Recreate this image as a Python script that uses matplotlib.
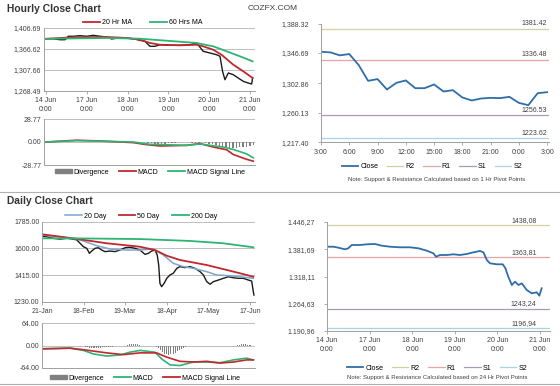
import numpy as np
import matplotlib
matplotlib.use("Agg")
from matplotlib import pyplot as plt
from matplotlib.lines import Line2D
from matplotlib.patches import Patch

plt.rcParams['font.family'] = ['Liberation Sans', 'DejaVu Sans']

# ---- datos: grafico horario (arriba izquierda) ----
h_hours = [0, 4.3, 8.2, 11.2, 13.1, 16.1, 20, 23.9, 27.8, 31.8, 35.7, 38.6, 42.5, 47.4, 52.4, 55.3,
           58.2, 61.2, 64.1, 67.1, 72.9, 78.8, 84.7, 88.6, 90.2, 92.5, 96.5, 100.4, 102.4, 103.9,
           105.3, 107.3, 110.2, 113.1, 116.1, 119, 121, 121.6]
h_close = [1383.2, 1383, 1381, 1381, 1388.5, 1388.5, 1389.8, 1388.5, 1390.6, 1388.5, 1387, 1382.6,
           1384.8, 1384.8, 1382.6, 1379.7, 1377.5, 1366.5, 1366.5, 1370, 1368.7, 1368.7, 1370, 1373.8,
           1366.5, 1355.6, 1351.8, 1348.1, 1344.6, 1311.7, 1293.3, 1308, 1304.3, 1297, 1289.7, 1286,
           1283.8, 1297]
ma20_hours = [0, 16, 35.7, 47.4, 55.3, 61.2, 67.1, 78.8, 88.6, 92.5, 98.4, 103.3, 110.2, 116.1, 121.6]
ma20_vals = [1383, 1386.3, 1387, 1384.8, 1381, 1373.8, 1370, 1368.7, 1370, 1366.5, 1359, 1348,
             1326.2, 1311.7, 1297]
ma60_hours = [0, 35.7, 55.3, 71, 88.6, 98.4, 106.3, 114.1, 121.6]
ma60_vals = [1383, 1384.8, 1383.2, 1378.8, 1373.8, 1366.5, 1355.6, 1344.6, 1333.6]
h_ticks_y = ['1,268.49', '1,307.66', '1,366.62', '1,406.69']
h_ticks_x = ['14 Jun\n0:00', '17 Jun\n0:00', '18 Jun\n0:00', '19 Jun\n0:00', '20 Jun\n0:00', '21 Jun\n0:00']

macd_h_hours = [0, 18, 31.8, 51.4, 59.2, 67, 82.7, 90.6, 98.4, 106.3, 110.2, 118, 122]
macd_h_vals = [0, 2.2, 1.3, -0.8, -3.3, -5, -4.2, -2, -6.3, -9.7, -15.6, -21.6, -24]
sig_h_hours = [0, 18, 51.4, 61.2, 82.7, 90.6, 104.3, 110.2, 118, 122]
sig_h_vals = [0, 1.7, 0, -2.9, -4.2, -2.5, -6.3, -9.3, -14.8, -19.8]
div_h_hours = list(range(58, 123, 2))
div_h_vals = [-0.5, -1, -1.5, -2, -2, -2.5, -2, -1.5, -1, -1, -0.5, -0.5, 0, -0.5, -1, -1.5, -1,
              -0.5, -1, -2, -3, -4, -5, -6, -6.5, -7, -7, -7, -6.5, -6, -6, -5, -4]

# ---- datos: pivotes 1 hora (arriba derecha) ----
c1_close = [1348.2, 1347.3, 1343.0, 1344.9, 1329.0, 1306.2, 1308.7, 1293.7, 1303.3, 1306.8, 1295.6,
            1295.6, 1301.0, 1290.8, 1292.7, 1282.2, 1277.8, 1280.7, 1281.6, 1281.2, 1283.1, 1274.4,
            1271.0, 1288.4, 1289.8]
c1_ticks_x = ['3:00', '6:00', '9:00', '12:00', '15:00', '18:00', '21:00', '0:00', '3:00']
c1_ticks_y = [1217.40, 1260.13, 1302.86, 1346.69, 1388.32]
c1_pivots = {'R2': 1381.42, 'R1': 1336.48, 'S1': 1256.53, 'S2': 1223.62}

# ---- datos: grafico diario (abajo izquierda) ----
d_days = [0, 2.2, 5.4, 8.7, 11.9, 15, 16.7, 18.3, 19.9, 21.5, 22.8, 23.9, 25.5, 27.1, 28.7, 30.3,
          32.7, 35.1, 37.5, 39.9, 42.3, 44.7, 47.1, 49.5, 51.1, 52.7, 54.3, 55.4, 56.1, 56.7, 57.5,
          58.7, 60, 61.5, 63.1, 64.8, 66.3, 68.8, 71.2, 73.6, 76, 77.6, 79.2, 80.8, 82.4, 84.8, 87.2,
          89.6, 92, 94.4, 96.8, 99.2, 100.8, 101.6, 101.9]
d_close = [1685, 1680, 1669, 1664, 1669, 1664, 1658, 1635, 1611, 1600, 1565, 1581, 1600, 1604, 1588,
           1577, 1581, 1577, 1588, 1604, 1607, 1600, 1588, 1558, 1565, 1581, 1588, 1554, 1484, 1357,
           1334, 1357, 1392, 1415, 1427, 1461, 1473, 1466, 1473, 1461, 1438, 1415, 1369, 1351, 1369,
           1380, 1392, 1403, 1396, 1392, 1392, 1380, 1373, 1299, 1276]
d200_days = [0, 15, 47, 71, 87, 101.6]
d200_vals = [1669, 1669, 1664, 1651, 1635, 1607]
d50_days = [0, 15, 31, 47, 54.3, 59.9, 66.3, 79.2, 88.8, 95.2, 101.6]
d50_vals = [1697, 1669, 1635, 1611, 1588, 1549, 1519, 1484, 1450, 1427, 1403]
d20_days = [0, 15, 19.9, 26.3, 32.7, 40.7, 47.1, 53.5, 58.3, 63.1, 67.9, 72.8, 79.2, 84, 90.4, 95.2, 101.6]
d20_vals = [1692, 1669, 1651, 1618, 1595, 1588, 1588, 1595, 1554, 1496, 1473, 1461, 1438, 1415, 1410,
            1403, 1392]
d_ticks_x = ['21-Jan', '18-Feb', '19-Mar', '18-Apr', '17-May', '17-Jun']
d_ticks_y = [1230, 1415, 1600, 1785]

macd_d_days = [0, 13.5, 19.9, 24.7, 31.1, 37.5, 42.3, 47.1, 54.3, 57.5, 61.5, 66.3, 72.8, 79.2, 85.6,
               92, 98.4, 101.6]
macd_d_vals = [-9.5, -7.6, -14, -24, -30, -27, -19, -14, -19, -38, -55, -57, -47, -47, -49, -41, -36, -41]
sig_d_days = [0, 13.5, 19.9, 31.1, 39.1, 47.1, 55.1, 59.9, 66.3, 72.8, 79.2, 85.6, 92, 98.4, 101.6]
sig_d_vals = [-9.5, -7.6, -12, -21, -26, -21, -21, -33, -45, -47, -45, -50, -47, -41, -41]
div_d_days = list(range(20, 37)) + list(range(41, 48)) + list(range(55, 71)) + list(range(94, 101))
div_d_vals = [-2, -3, -5, -7, -8, -8, -7, -6, -6, -5, -5, -4, -4, -3, -3, -2, -2,
              2, 3, 3, 4, 3, 3, 2,
              -3, -8, -14, -19, -23, -25, -26, -25, -23, -20, -16, -12, -9, -6, -4, -2,
              2, 2, 3, 3, 3, 2, 2]

# ---- datos: pivotes 24 horas (abajo derecha) ----
c24_hours = [0, 3.6, 6.4, 10.1, 12, 13.9, 18.6, 22.4, 27, 30.8, 35.5, 41.1, 46.8, 51.5, 56.2, 59.9,
             61.4, 63.7, 67.4, 71.2, 74.9, 78.7, 82.4, 86.2, 88.1, 90, 91.8, 95.6, 99, 100.5, 102.1,
             104.1, 105.9, 107.8, 109.7, 112.5, 115.3, 118.1, 119.6, 120.9]
c24_close = [1388.4, 1388.4, 1386.1, 1382.3, 1384.7, 1392.4, 1392.4, 1394, 1394.8, 1390.8, 1388.4,
             1387, 1387, 1384.7, 1379, 1373, 1365, 1369, 1369, 1370.6, 1369, 1371.3, 1375.2, 1378.4,
             1375.2, 1357.3, 1349.5, 1347.2, 1347.2, 1337.8, 1318.2, 1298.7, 1306.5, 1298.7, 1302.6,
             1287, 1279.2, 1281.6, 1273.7, 1291]
c24_ticks_y = ['1.190,96', '1.264,63', '1.318,11', '1.381,69', '1.446,27']
c24_pivots = {'R2': 1438.08, 'R1': 1363.81, 'S1': 1243.24, 'S2': 1196.94}
c24_pivot_labels = {'R2': '1438,08', 'R1': '1363,81', 'S1': '1243,24', 'S2': '1196,94'}

# colores
RED = '#c1282d'
GREEN = '#2db574'
BLUE = '#2f6ea8'
BLUE20 = '#7ba6cf'
GRAY = '#808080'
PIV = {'R2': '#d2d2a0', 'R1': '#e6a4a4', 'S1': '#a89cb2', 'S2': '#a6d6e6'}
TXT = '#404040'
GRID = '#b4b4b4'

W, H = 560, 386
fig = plt.figure(figsize=(5.6, 3.86), dpi=100)


def box(l, t, r, b):
    return [l / W, 1 - b / H, (r - l) / W, (b - t) / H]


def estilo(ax, grid=True):
    for s in ['top', 'right']:
        ax.spines[s].set_visible(False)
    for s in ['left', 'bottom']:
        ax.spines[s].set_color('#a0a0a0')
        ax.spines[s].set_linewidth(0.7)
    ax.tick_params(labelsize=5, colors='#a0a0a0', labelcolor=TXT, length=2.5, width=0.6, pad=2)
    if grid:
        ax.yaxis.grid(True, color=GRID, linewidth=0.6)
        ax.set_axisbelow(True)


def ftext(x, y, s, **kw):
    fig.text(x / W, 1 - y / H, s, **kw)


def leyenda(handles, labels, x, y, sep):
    fig.legend(handles, labels, loc='center', bbox_to_anchor=(x / W, 1 - y / H), ncol=len(labels),
               frameon=False, fontsize=5, handlelength=2.4, handleheight=0.5, columnspacing=sep,
               handletextpad=0.3, borderaxespad=0, borderpad=0)


# ---------- Hourly close ----------
ftext(7, 9, 'Hourly Close Chart', fontsize=7.4, fontweight='bold', color='#333333', va='center')
ftext(248, 9, 'COZFX.COM', fontsize=6, color=TXT, va='center')

ax1 = fig.add_axes(box(44, 28, 255, 91))
estilo(ax1)
ax1.plot(h_hours, h_close, color='#1a1a1a', lw=1.0)
ax1.plot(ma20_hours, ma20_vals, color=RED, lw=1.3)
ax1.plot(ma60_hours, ma60_vals, color=GREEN, lw=1.3)
ax1.set_xlim(-1.2, 123)
ax1.set_ylim(1268.49, 1406.69)
ax1.set_yticks(np.linspace(1268.49, 1406.69, 4))
ax1.set_yticklabels(h_ticks_y)
ax1.tick_params(axis='y', length=0)
ax1.set_xticks(range(0, 121, 24))
ax1.set_xticklabels(h_ticks_x, linespacing=1.3)
leyenda([Line2D([], [], color=RED, lw=1.3), Line2D([], [], color=GREEN, lw=1.3)],
        ['20 Hr MA', '60 Hrs MA'], 143, 23, 2.6)

ax2 = fig.add_axes(box(44, 119, 255, 165))
estilo(ax2)
ax2.bar(div_h_hours, div_h_vals, width=0.9, color=GRAY, linewidth=0)
ax2.plot(macd_h_hours, macd_h_vals, color=RED, lw=1.2)
ax2.plot(sig_h_hours, sig_h_vals, color=GREEN, lw=1.2)
ax2.set_xlim(-1.2, 123)
ax2.set_ylim(-28.77, 28.77)
ax2.set_yticks([-28.77, 0, 28.77])
ax2.set_yticklabels(['-28.77', '0.00', '28.77'])
ax2.tick_params(axis='y', length=0)
ax2.set_xticks([])
leyenda([Patch(color=GRAY), Line2D([], [], color=RED, lw=1.3), Line2D([], [], color=GREEN, lw=1.3)],
        ['Divergence', 'MACD', 'MACD Signal Line'], 150, 172, 1.4)

# ---------- 1 Hr pivots ----------
ax3 = fig.add_axes(box(321, 24, 549, 142.3))
estilo(ax3, grid=False)
for k, v in c1_pivots.items():
    ax3.axhline(v, color=PIV[k], lw=0.9)
    ax3.text(24, v + 2, f'{v:.2f}', fontsize=5, color=TXT, ha='right', va='bottom')
ax3.plot(range(len(c1_close)), c1_close, color=BLUE, lw=1.3)
ax3.set_xlim(0, 24.2)
ax3.set_ylim(1217.40, 1388.32)
ax3.set_yticks(c1_ticks_y)
ax3.set_yticklabels([f'{v:,.2f}' for v in c1_ticks_y])
ax3.set_xticks(range(0, 25, 3))
ax3.set_xticklabels(c1_ticks_x)
ax3.tick_params(axis='y', pad=6)
leyenda([Line2D([], [], color=BLUE, lw=1.3)] + [Line2D([], [], color=PIV[k], lw=0.9) for k in c1_pivots],
        ['Close'] + list(c1_pivots), 432, 167, 1.2)
ftext(437, 180, 'Note: Support & Resistance Calculated based on 1 Hr Pivot Points',
      fontsize=4.3, color=TXT, ha='center', va='center')

# separadores
fig.add_artist(Line2D([0, 1], [1 - 192 / H, 1 - 192 / H], color='#b0b0b0', lw=0.8))
fig.add_artist(Line2D([0, 1], [1 - 384 / H, 1 - 384 / H], color='#b0b0b0', lw=0.8))

# ---------- Daily close ----------
ftext(7, 201, 'Daily Close Chart', fontsize=7.4, fontweight='bold', color='#333333', va='center')

ax4 = fig.add_axes(box(42, 221.6, 255, 301.7))
estilo(ax4)
ax4.plot(d_days, d_close, color='#1a1a1a', lw=1.0)
ax4.plot(d20_days, d20_vals, color=BLUE20, lw=1.1)
ax4.plot(d50_days, d50_vals, color=RED, lw=1.3)
ax4.plot(d200_days, d200_vals, color=GREEN, lw=1.3)
ax4.set_xlim(0, 102.4)
ax4.set_ylim(1230, 1785)
ax4.set_yticks(d_ticks_y)
ax4.set_yticklabels([f'{v:.2f}' for v in d_ticks_y])
ax4.tick_params(axis='y', length=0)
ax4.set_xticks(range(0, 101, 20))
ax4.set_xticklabels(d_ticks_x)
leyenda([Line2D([], [], color=BLUE20, lw=1.1), Line2D([], [], color=RED, lw=1.3),
         Line2D([], [], color=GREEN, lw=1.3)],
        ['20 Day', '50 Day', '200 Day'], 141, 216, 1.8)

ax5 = fig.add_axes(box(42, 323, 255, 368))
estilo(ax5)
ax5.bar(div_d_days, div_d_vals, width=0.5, color=GRAY, linewidth=0)
ax5.plot(macd_d_days, macd_d_vals, color=GREEN, lw=1.2)
ax5.plot(sig_d_days, sig_d_vals, color=RED, lw=1.2)
ax5.set_xlim(0, 102.4)
ax5.set_ylim(-64, 64)
ax5.set_yticks([-64, 0, 64])
ax5.set_yticklabels(['-64.00', '0.00', '64.00'])
ax5.tick_params(axis='y', length=0)
ax5.set_xticks([])
leyenda([Patch(color=GRAY), Line2D([], [], color=GREEN, lw=1.3), Line2D([], [], color=RED, lw=1.3)],
        ['Divergence', 'MACD', 'MACD Signal Line'], 145, 378, 1.4)

# ---------- 24 Hr pivots ----------
ax6 = fig.add_axes(box(327, 222, 550, 331))
estilo(ax6, grid=False)
for k, v in c24_pivots.items():
    ax6.axhline(v, color=PIV[k], lw=0.9)
    ax6.text(118, v + 3, c24_pivot_labels[k], fontsize=5, color=TXT, ha='right', va='bottom')
ax6.plot(c24_hours, c24_close, color=BLUE, lw=1.3)
ax6.set_xlim(0, 125.6)
ax6.set_ylim(1190.96, 1446.27)
ax6.set_yticks(np.linspace(1190.96, 1446.27, 5))
ax6.set_yticklabels(c24_ticks_y)
ax6.set_xticks(range(0, 121, 24))
ax6.set_xticklabels(h_ticks_x, linespacing=1.3)
ax6.tick_params(axis='y', pad=6)
leyenda([Line2D([], [], color=BLUE, lw=1.3)] + [Line2D([], [], color=PIV[k], lw=0.9) for k in c24_pivots],
        ['Close'] + list(c24_pivots), 437, 368, 1.2)
ftext(437, 378, 'Note: Support & Resistance Calculated based on 24 Hr Pivot Points',
      fontsize=4.3, color=TXT, ha='center', va='center')

fig.savefig('out.png', dpi=100)
